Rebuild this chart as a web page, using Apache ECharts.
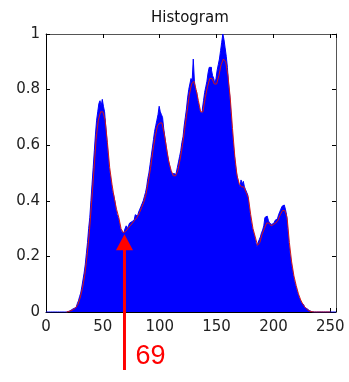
<!DOCTYPE html>
<html>
<head>
<meta charset="utf-8">
<script src="https://cdn.jsdelivr.net/npm/echarts@6/dist/echarts.min.js"></script>
<style>html,body{margin:0;padding:0;background:#fff}#c{width:349px;height:382px}</style>
</head>
<body>
<div id="c"></div>
<script>
// Histogram (normalised counts) for grey levels 0..255
var binValues = [
  0,0,0,0,0,0,0,0,0,0,
  0,0,0,0,0,0,0,0,0,0.002,
  0.003,0.004,0.006,0.008,0.010,0.013,0.016,0.020,0.030,0.040,
  0.055,0.068,0.090,0.115,0.140,0.170,0.210,0.250,0.300,0.340,
  0.400,0.460,0.520,0.580,0.640,0.690,0.720,0.750,0.760,0.740,
  0.765,0.740,0.720,0.670,0.620,0.570,0.520,0.490,0.460,0.430,
  0.420,0.400,0.370,0.350,0.340,0.320,0.300,0.290,0.285,0.290,
  0.300,0.310,0.300,0.310,0.320,0.325,0.320,0.330,0.335,0.350,
  0.345,0.350,0.360,0.370,0.380,0.390,0.400,0.415,0.430,0.450,
  0.480,0.500,0.530,0.560,0.590,0.620,0.650,0.670,0.690,0.710,
  0.740,0.720,0.710,0.700,0.660,0.630,0.600,0.570,0.550,0.530,
  0.510,0.500,0.490,0.500,0.490,0.500,0.520,0.540,0.560,0.580,
  0.610,0.630,0.670,0.700,0.730,0.770,0.800,0.820,0.840,0.830,
  0.910,0.830,0.800,0.790,0.760,0.740,0.720,0.715,0.730,0.760,
  0.790,0.810,0.830,0.860,0.880,0.880,0.870,0.850,0.840,0.820,
  0.840,0.870,0.890,0.910,0.940,0.970,1.000,0.980,0.950,0.920,
  0.880,0.820,0.780,0.720,0.660,0.610,0.570,0.530,0.500,0.480,
  0.460,0.450,0.475,0.460,0.470,0.450,0.440,0.430,0.420,0.380,
  0.350,0.320,0.300,0.285,0.270,0.250,0.235,0.250,0.260,0.270,
  0.285,0.295,0.310,0.340,0.345,0.340,0.330,0.320,0.315,0.320,
  0.320,0.325,0.330,0.335,0.340,0.350,0.360,0.370,0.380,0.385,
  0.380,0.370,0.350,0.300,0.250,0.210,0.180,0.155,0.130,0.110,
  0.095,0.080,0.065,0.053,0.043,0.034,0.027,0.021,0.016,0.012,
  0.008,0.005,0.003,0.002,0.001,0,0,0,0,0,
  0,0,0,0,0,0,0,0,0,0,
  0,0,0,0,0,0
];

// Red outline curve
var curveX = [18,20,22,24,26,28,30,32,34,36,38,40,42,44,46,48,50,52,54,56,58,60,62,64,66,68,70,72,74,76,78,80,82,84,86,88,90,92,94,96,98,100,102,104,106,108,110,112,114,116,118,120,122,124,126,128,130,132,134,136,138,140,142,144,146,148,150,152,154,156,158,160,162,164,166,168,170,172,174,176,178,180,182,184,186,188,190,192,194,196,198,200,202,204,206,208,210,212,214,216,218,220,222,224,226,228,230,232,234,236,238,240,242,244,246,248,250];
var curveY = [0,0.002,0.005,0.009,0.015,0.027,0.05,0.085,0.13,0.2,0.28,0.39,0.5,0.62,0.69,0.72,0.72,0.69,0.61,0.52,0.46,0.41,0.37,0.34,0.30,0.285,0.29,0.30,0.31,0.32,0.33,0.34,0.355,0.375,0.395,0.425,0.47,0.52,0.58,0.63,0.67,0.68,0.68,0.64,0.59,0.54,0.51,0.49,0.49,0.51,0.55,0.6,0.66,0.72,0.78,0.82,0.83,0.8,0.76,0.72,0.72,0.77,0.81,0.84,0.84,0.82,0.82,0.85,0.89,0.91,0.9,0.85,0.77,0.66,0.56,0.49,0.46,0.45,0.45,0.43,0.41,0.35,0.30,0.27,0.24,0.25,0.28,0.30,0.32,0.32,0.31,0.315,0.32,0.33,0.35,0.365,0.365,0.34,0.25,0.18,0.13,0.095,0.065,0.043,0.027,0.016,0.008,0.003,0.001,0,0,0,0,0,0,0,0];

var xTicks = [0, 50, 100, 150, 200, 250];
var yTicks = [0, 0.2, 0.4, 0.6, 0.8, 1];
var markedLevel = 69;
var markedValue = 0.28;
var titleText = 'Histogram';

var barData = binValues.map(function (v, i) { return [i, v]; });
var curveData = curveX.map(function (x, i) { return [x, curveY[i]]; });

var chart = echarts.init(document.getElementById('c'), null, {renderer: 'canvas'});
var font = 'DejaVu Sans';
function tick() { return {inside: true, length: 4, lineStyle: {color: '#000'}}; }
chart.setOption({
  animation: false,
  backgroundColor: '#fff',
  title: {
    text: titleText, left: 146, top: 6,
    textStyle: {fontFamily: font, fontSize: 15, fontWeight: 'normal', color: '#111'}
  },
  grid: {left: 46, right: 13, top: 34, bottom: 70, containLabel: false},
  xAxis: [
    {
      type: 'value', min: 0, max: 255, interval: 50, position: 'bottom',
      splitLine: {show: false}, axisTick: tick(),
      axisLine: {show: true, onZero: false, lineStyle: {color: '#000', width: 1}},
      axisLabel: {
        fontFamily: font, fontSize: 15, color: '#222', margin: 8,
        formatter: function (v) { return xTicks.indexOf(v) >= 0 ? String(v) : ''; }
      }
    },
    {
      type: 'value', min: 0, max: 255, interval: 50, position: 'top',
      splitLine: {show: false}, axisTick: tick(),
      axisLine: {show: true, onZero: false, lineStyle: {color: '#555', width: 1}},
      axisLabel: {show: false}
    }
  ],
  yAxis: [
    {
      type: 'value', min: 0, max: 1, interval: 0.2, position: 'left',
      splitLine: {show: false}, axisTick: tick(),
      axisLine: {show: true, onZero: false, lineStyle: {color: '#000', width: 1}},
      axisLabel: {
        fontFamily: font, fontSize: 15, color: '#222', margin: 6,
        formatter: function (v) { var r = Math.round(v * 10) / 10; return yTicks.indexOf(r) >= 0 ? String(r) : ''; }
      }
    },
    {
      type: 'value', min: 0, max: 1, interval: 0.2, position: 'right',
      splitLine: {show: false}, axisTick: tick(),
      axisLine: {show: true, onZero: false, lineStyle: {color: '#555', width: 1}},
      axisLabel: {show: false}
    }
  ],
  series: [
    {
      type: 'line', xAxisIndex: 0, yAxisIndex: 0,
      data: barData, step: 'middle', showSymbol: false, symbol: 'none',
      lineStyle: {color: '#0000ff', width: 1},
      areaStyle: {color: '#0000ff', opacity: 1},
      silent: true, z: 2
    },
    {
      type: 'line', xAxisIndex: 0, yAxisIndex: 0,
      data: curveData, showSymbol: false, symbol: 'none',
      lineStyle: {color: '#d01818', width: 1},
      silent: true, z: 3
    }
  ]
});

// Red arrow annotation at grey level 69, placed through the axis scales
var tip = chart.convertToPixel({xAxisIndex: 0, yAxisIndex: 0}, [markedLevel, markedValue]);
var headH = 16, headW = 17;
var bottomY = 370;
chart.setOption({
  graphic: [
    {
      type: 'line', z: 100,
      shape: {x1: tip[0], y1: tip[1] + headH - 1, x2: tip[0], y2: bottomY},
      style: {stroke: '#ff0000', lineWidth: 3}
    },
    {
      type: 'polygon', z: 100,
      shape: {points: [[tip[0], tip[1]], [tip[0] - headW / 2, tip[1] + headH], [tip[0] + headW / 2, tip[1] + headH]]},
      style: {fill: '#ff0000'}
    },
    {
      type: 'text', z: 100,
      x: tip[0] + 11, y: 357,
      style: {text: String(markedLevel), fill: '#ff0000', font: '27px "Liberation Sans"', textVerticalAlign: 'middle', verticalAlign: 'middle'}
    }
  ]
});
</script>
</body>
</html>
